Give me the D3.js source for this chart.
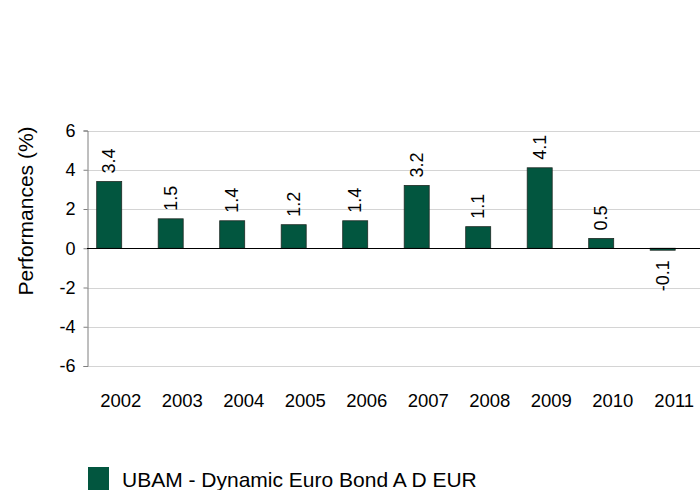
<!DOCTYPE html>
<html>
   <head>
      <meta charset="utf-8">
      <script src="https://d3js.org/d3.v7.min.js"></script>
   </head>
   <style>
      body { margin: 0; background: #fff; }
      text { font-family: 'Liberation Sans', Arial, sans-serif; fill: #000; }
   </style>
   <body>
      <script>
         let [width, height] = [700, 490];

         let years = ['2002', '2003', '2004', '2005', '2006', '2007', '2008', '2009', '2010', '2011'];
         let values = [3.4, 1.5, 1.4, 1.2, 1.4, 3.2, 1.1, 4.1, 0.5, -0.1];
         let yTicks = [-6, -4, -2, 0, 2, 4, 6];
         let seriesName = 'UBAM - Dynamic Euro Bond A D EUR';

         let svg = d3.select('body').append('svg').attr('width', width).attr('height', height);

         // Scales
         let x = d3.scaleBand().domain(years).range([87, 702]).padding(0);
         let y = d3.scaleLinear().domain([-6, 6]).range([366, 130.5]);
         let barW = 25;
         let barX = (d) => x(d) + 9.7;

         // Gridlines
         svg.append('g').selectAll('line')
            .data(yTicks.filter(t => t !== 0))
            .enter().append('line')
               .attr('x1', 87).attr('x2', width)
               .attr('y1', d => Math.round(y(d)) + 0.5).attr('y2', d => Math.round(y(d)) + 0.5)
               .attr('stroke', '#d4d4d4').attr('stroke-width', 1);

         // Y axis
         let yAxis = svg.append('g')
            .attr('transform', 'translate(87.5,0)')
            .call(d3.axisLeft(y).tickValues(yTicks).tickSize(4).tickFormat(d => String(d)));
         yAxis.select('.domain').attr('stroke', '#7f7f7f');
         yAxis.selectAll('.tick line').attr('stroke', '#7f7f7f');
         yAxis.selectAll('.tick text').style('font-size', '18px').attr('x', -12).attr('fill', '#000');

         // Bars
         svg.append('g').selectAll('rect')
            .data(values)
            .enter().append('rect')
               .attr('x', (d, i) => barX(years[i]))
               .attr('width', barW)
               .attr('y', d => y(Math.max(0, d)))
               .attr('height', d => Math.max(1.5, Math.abs(y(d) - y(0))))
               .attr('fill', '#02563f')
               .attr('stroke', '#1f2a24')
               .attr('stroke-width', 0.8);

         // Zero line
         svg.append('line')
            .attr('x1', 87).attr('x2', width)
            .attr('y1', Math.round(y(0)) + 0.5).attr('y2', Math.round(y(0)) + 0.5)
            .attr('stroke', '#000').attr('stroke-width', 1);

         // Value labels
         svg.append('g').selectAll('text')
            .data(values)
            .enter().append('text')
               .text(d => d.toFixed(1))
               .attr('transform', (d, i) => {
                  let cx = barX(years[i]) + barW / 2 + 6;
                  let cy = d >= 0 ? y(d) - 8 : y(d) + 10;
                  return `translate(${cx},${cy}) rotate(-90)`;
               })
               .style('text-anchor', d => d >= 0 ? 'start' : 'end')
               .style('font-size', '18px');

         // Category labels
         svg.append('g').selectAll('text')
            .data(years)
            .enter().append('text')
               .text(d => d)
               .attr('x', d => x(d) + x.bandwidth() / 2 + 3)
               .attr('y', 407)
               .style('text-anchor', 'middle')
               .style('font-size', '18.5px');

         // Y axis title
         svg.append('text')
            .text('Performances (%)')
            .attr('transform', 'translate(33,211) rotate(-90)')
            .style('text-anchor', 'middle')
            .style('font-size', '21px');

         // Legend
         svg.append('rect')
            .attr('x', 88).attr('y', 467).attr('width', 21).attr('height', 23)
            .attr('fill', '#02563f');
         svg.append('text')
            .text(seriesName)
            .attr('x', 122).attr('y', 487)
            .style('font-size', '21px');
      </script>
   </body>
</html>
